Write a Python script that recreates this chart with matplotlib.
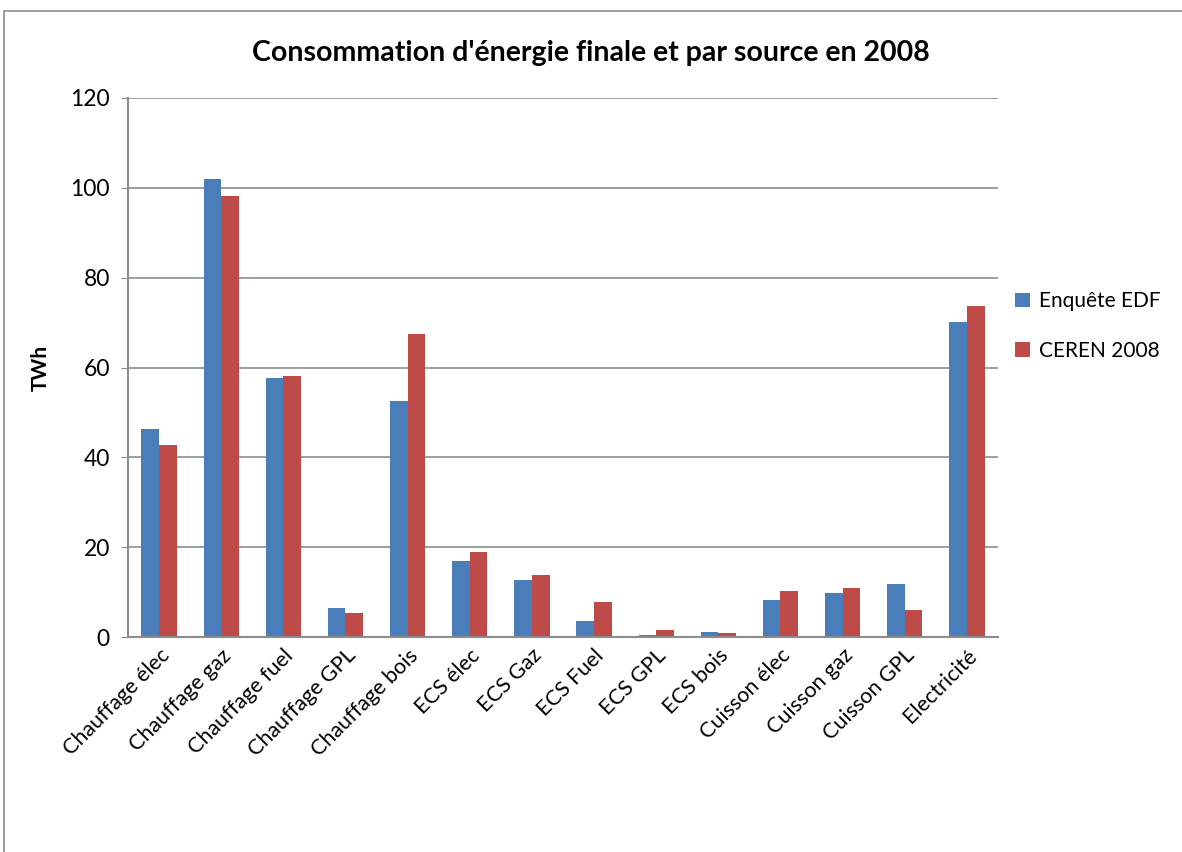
import matplotlib.pyplot as plt
import matplotlib.patches as mpatches
import numpy as np

plt.rcParams['font.family'] = ['Lato', 'DejaVu Sans']

categories = ["Chauffage élec", "Chauffage gaz", "Chauffage fuel", "Chauffage GPL",
              "Chauffage bois", "ECS élec", "ECS Gaz", "ECS Fuel", "ECS GPL",
              "ECS bois", "Cuisson élec", "Cuisson gaz", "Cuisson GPL", "Electricité"]
enquete_edf = [46.2, 102.0, 57.7, 6.4, 52.5, 16.9, 12.7, 3.6, 0.4, 1.2, 8.2, 9.9, 11.7, 70.2]
ceren_2008 = [42.7, 98.2, 58.1, 5.4, 67.5, 19.0, 13.8, 7.9, 1.5, 0.8, 10.2, 10.9, 6.1, 73.8]

blue = "#4a7ebb"
red = "#be4b48"
grey = "#8c8c8c"

fig = plt.figure(figsize=(11.82, 8.52), dpi=100)
# chart border (only top and left edges are visible in the crop)
fig.patches.append(mpatches.Rectangle((4 / 1182, -0.1), 1.2, 1.1 - 11 / 852,
                                      transform=fig.transFigure, fill=False,
                                      edgecolor=grey, linewidth=1.2))
ax = fig.add_axes([128 / 1182, 1 - 637 / 852, 870 / 1182, 539 / 852])

x = np.arange(len(categories))
w = 0.285
ax.bar(x - w / 2, enquete_edf, w, color=blue, label="Enquête EDF")
ax.bar(x + w / 2, ceren_2008, w, color=red, label="CEREN 2008")

ax.set_xlim(-0.5, len(categories) - 0.5)
ax.set_ylim(0, 120)
ax.set_yticks(range(0, 121, 20))
ax.yaxis.grid(True, color=grey, linewidth=1.2)
ax.set_axisbelow(True)
for s in ["top", "right"]:
    ax.spines[s].set_visible(False)
for s in ["left", "bottom"]:
    ax.spines[s].set_color(grey)
    ax.spines[s].set_linewidth(1.5)
ax.tick_params(axis="y", length=5, color=grey, labelsize=16.5, pad=8)
ax.tick_params(axis="x", length=0, labelsize=15.5, pad=6)
ax.set_xticks(x)
ax.set_xticklabels(categories, rotation=45, ha="right", rotation_mode="anchor")
ax.set_ylabel("TWh", fontsize=15, fontweight="bold", labelpad=14)

fig.text(0.5, 1 - 53 / 852, "Consommation d'énergie finale et par source en 2008",
         ha="center", va="center", fontsize=20.5, fontweight="bold")

ax.legend(loc="center left", bbox_to_anchor=(1.02, 0.577), frameon=False, fontsize=15,
          handlelength=0.7, handleheight=0.7, labelspacing=1.4, handletextpad=0.45,
          borderaxespad=0, borderpad=0)

plt.savefig("out.png", dpi=100)
